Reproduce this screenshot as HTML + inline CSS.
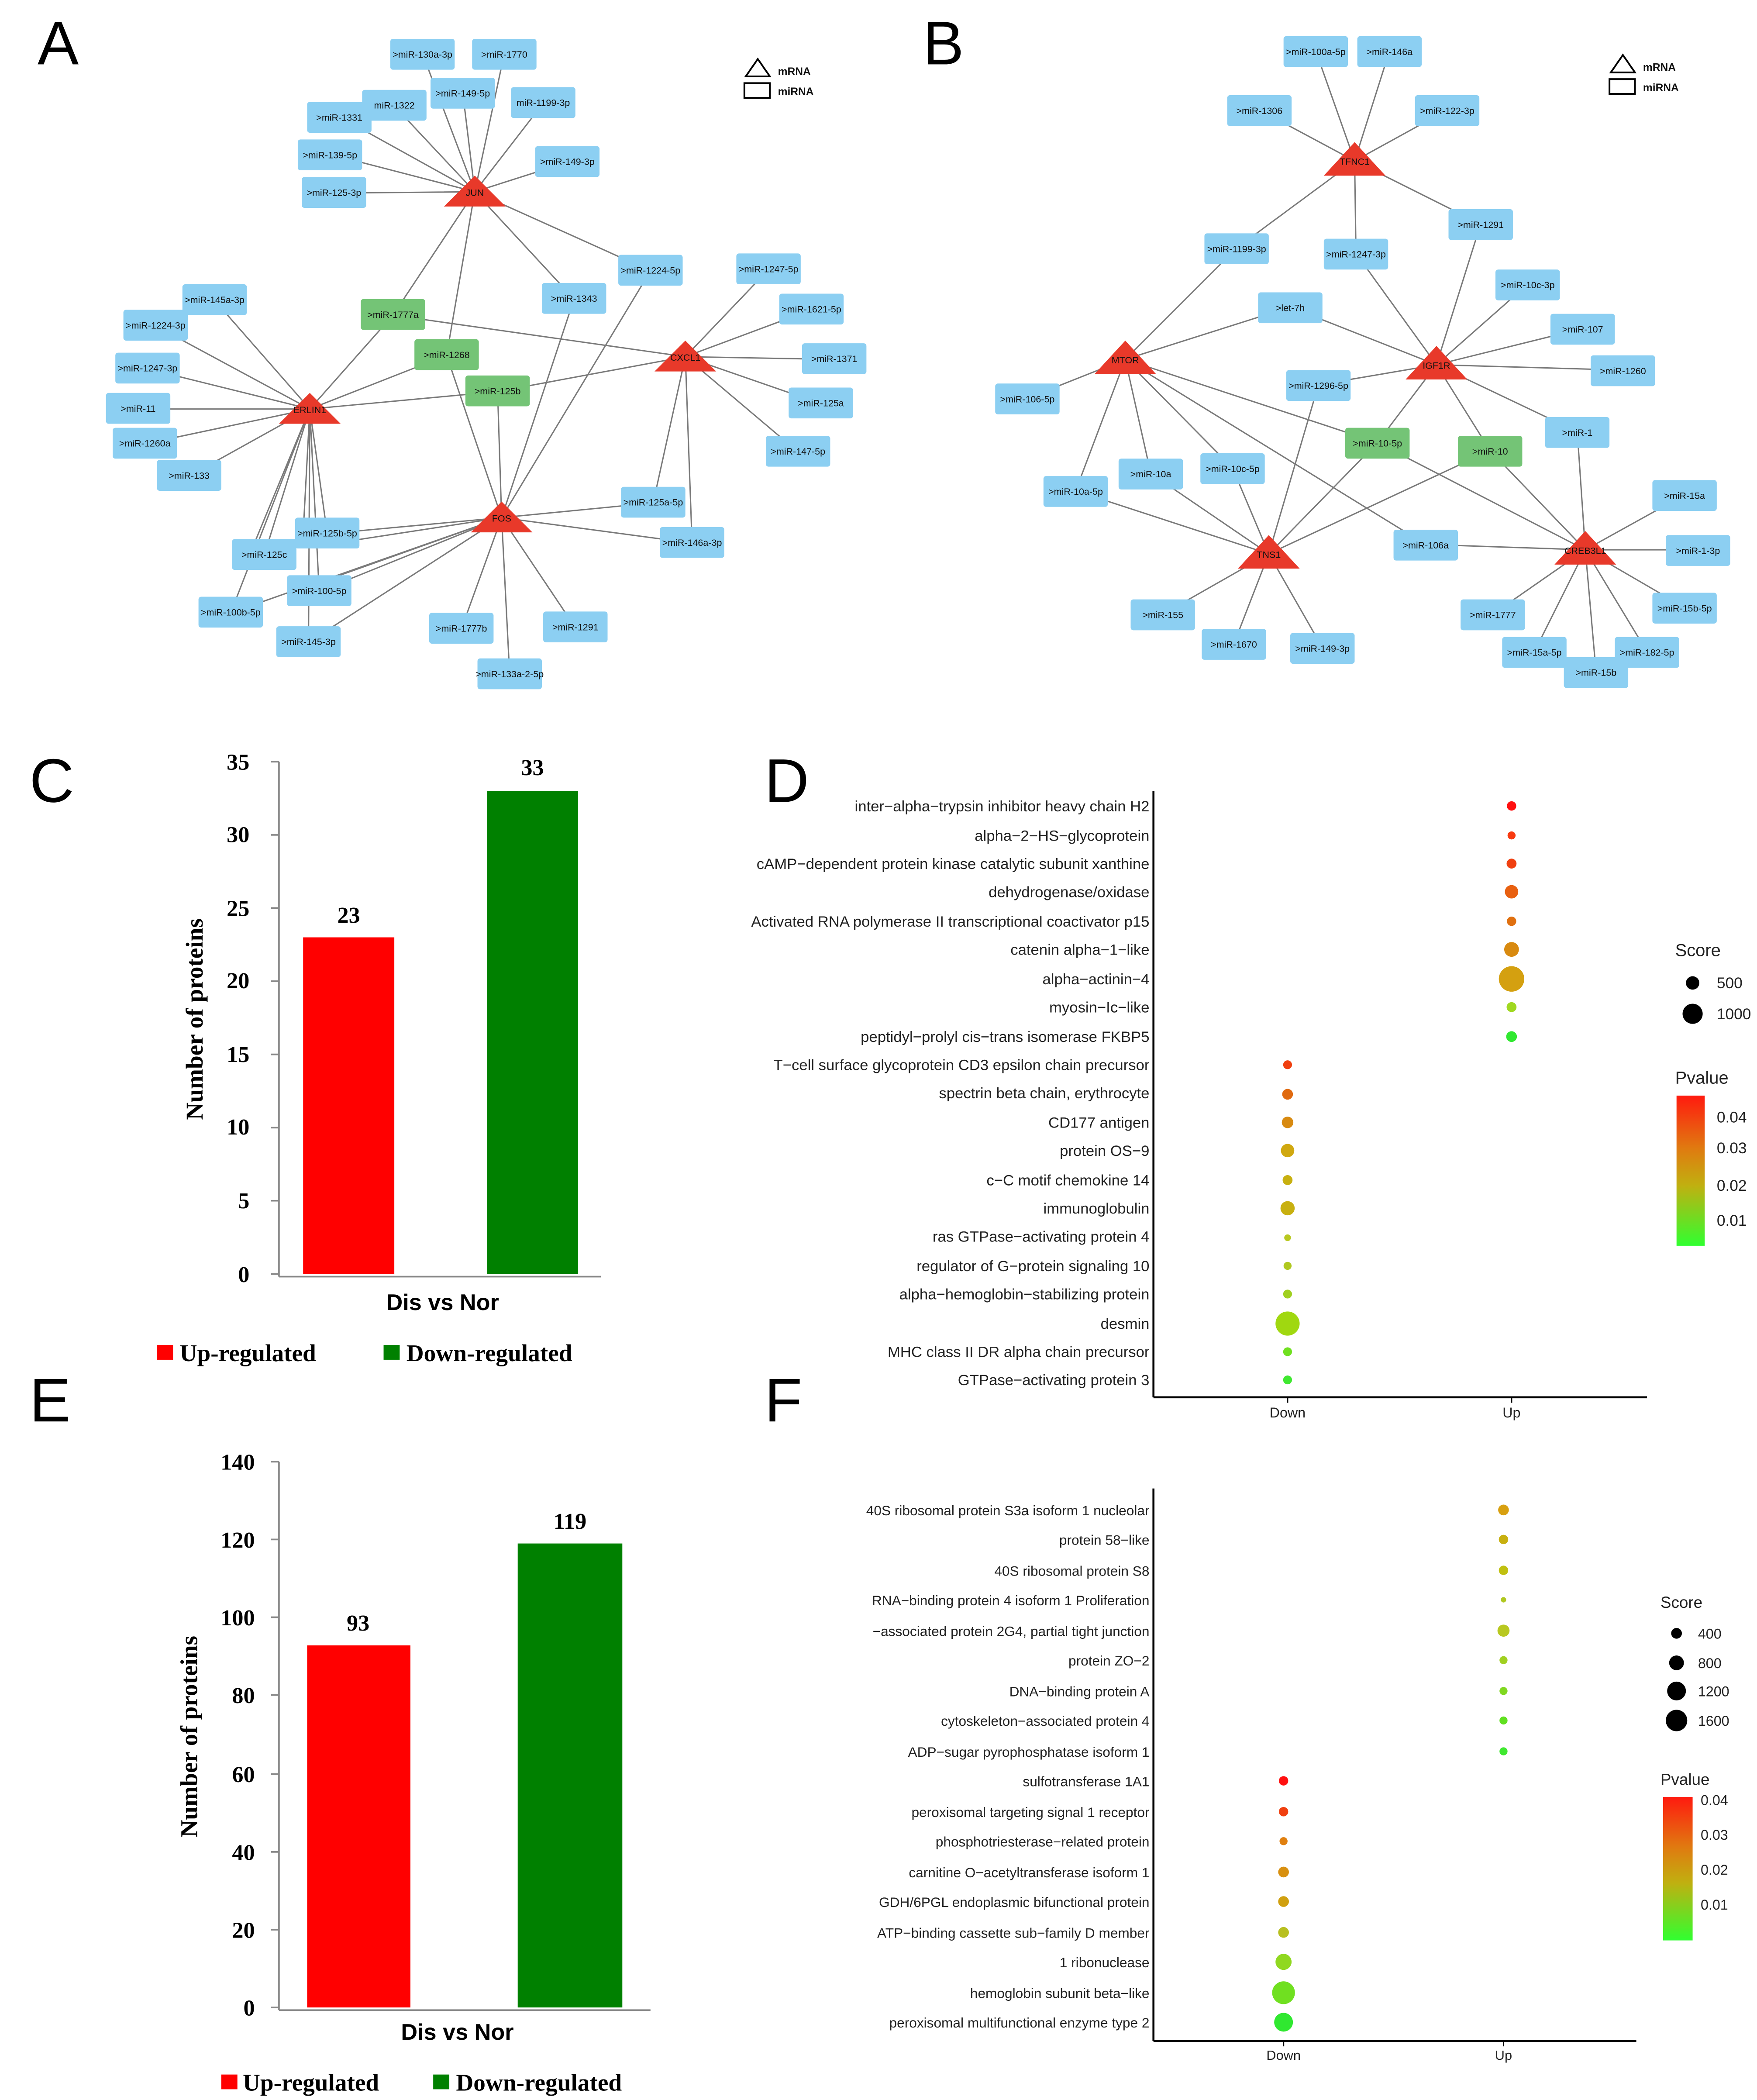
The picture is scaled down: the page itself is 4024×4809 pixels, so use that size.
<!DOCTYPE html>
<html><head><meta charset="utf-8"><style>
html,body{margin:0;padding:0;background:#fff;}
svg{display:block;}
.b{fill:#8ccff2;}
.g{fill:#74c476;}
.t{fill:#e8392a;}
.e{stroke:#7a7a7a;stroke-width:1;fill:none;}
.n{font-family:"Liberation Sans",sans-serif;font-size:7px;text-anchor:middle;fill:#111;}
.lab{font-family:"Liberation Sans",sans-serif;font-size:11.3px;text-anchor:end;fill:#222;}
.labf{font-family:"Liberation Sans",sans-serif;font-size:10.3px;text-anchor:end;fill:#222;}
.big{font-family:"Liberation Sans",sans-serif;font-size:46px;fill:#000;}
.ax{font-family:"Liberation Serif",serif;font-weight:bold;font-size:17px;fill:#000;text-anchor:end;}
.sm{font-family:"Liberation Sans",sans-serif;font-size:11.5px;fill:#222;}
</style></head><body>
<svg width="4024" height="4809" viewBox="0 0 1310 1566" preserveAspectRatio="none" xmlns="http://www.w3.org/2000/svg">
<rect width="1310" height="1566" fill="#fff"/>
<text class="big" x="28" y="48">A</text>
<text class="big" x="688" y="48">B</text>
<text class="big" x="22" y="598">C</text>
<text class="big" x="570" y="598">D</text>
<text class="big" x="22" y="1060">E</text>
<text class="big" x="570" y="1060">F</text>

<!-- Panel A edges -->
<g class="e">
<path d="M354 143L315 40M354 143L376 40M354 143L345 69M354 143L405 77M354 143L294 79M354 143L253 87M354 143L246 115M354 143L423 121M354 143L249 144M354 143L485 202M354 143L428 223M354 143L293 235M354 143L333 265"/>
<path d="M231 305L160 224M231 305L116 243M231 305L110 275M231 305L103 305M231 305L108 331M231 305L141 355M231 305L293 235M231 305L333 265M231 305L371 292M231 305L244 398M231 305L197 414M231 305L238 441M231 305L172 457M231 305L230 479M231 305L226 398M231 305L186 414"/>
<path d="M511 266L573 201M511 266L605 231M511 266L622 268M511 266L612 301M511 266L595 337M511 266L293 235M511 266L371 292M511 266L487 375M511 266L516 405"/>
<path d="M374 386L371 292M374 386L333 265M374 386L428 223M374 386L485 202M374 386L487 375M374 386L516 405M374 386L344 469M374 386L429 468M374 386L380 503M374 386L244 398M374 386L250 405M374 386L238 441M374 386L245 432M374 386L172 457M374 386L230 479"/>
</g>
<!-- Panel A triangles -->
<polygon class="t" points="354,131 331,154 377,154"/><text class="n" x="354" y="146">JUN</text>
<polygon class="t" points="231,293 208,316 254,316"/><text class="n" x="231" y="308">ERLIN1</text>
<polygon class="t" points="511,254 488,277 534,277"/><text class="n" x="511" y="269">CXCL1</text>
<polygon class="t" points="374,374 351,397 397,397"/><text class="n" x="374" y="389">FOS</text>
<!-- Panel A boxes -->
<g>
<rect class="b" x="291" y="29" width="48" height="23" rx="2"/><text class="n" x="315" y="43">&gt;miR-130a-3p</text>
<rect class="b" x="352" y="29" width="48" height="23" rx="2"/><text class="n" x="376" y="43">&gt;miR-1770</text>
<rect class="b" x="321" y="58" width="48" height="23" rx="2"/><text class="n" x="345" y="72">&gt;miR-149-5p</text>
<rect class="b" x="381" y="65" width="48" height="23" rx="2"/><text class="n" x="405" y="79">miR-1199-3p</text>
<rect class="b" x="270" y="67" width="48" height="23" rx="2"/><text class="n" x="294" y="81">miR-1322</text>
<rect class="b" x="229" y="76" width="48" height="23" rx="2"/><text class="n" x="253" y="90">&gt;miR-1331</text>
<rect class="b" x="222" y="104" width="48" height="23" rx="2"/><text class="n" x="246" y="118">&gt;miR-139-5p</text>
<rect class="b" x="399" y="109" width="48" height="23" rx="2"/><text class="n" x="423" y="123">&gt;miR-149-3p</text>
<rect class="b" x="225" y="132" width="48" height="23" rx="2"/><text class="n" x="249" y="146">&gt;miR-125-3p</text>
<rect class="b" x="461" y="190" width="48" height="23" rx="2"/><text class="n" x="485" y="204">&gt;miR-1224-5p</text>
<rect class="b" x="404" y="211" width="48" height="23" rx="2"/><text class="n" x="428" y="225">&gt;miR-1343</text>
<rect class="b" x="549" y="189" width="48" height="23" rx="2"/><text class="n" x="573" y="203">&gt;miR-1247-5p</text>
<rect class="b" x="581" y="219" width="48" height="23" rx="2"/><text class="n" x="605" y="233">&gt;miR-1621-5p</text>
<rect class="b" x="598" y="256" width="48" height="23" rx="2"/><text class="n" x="622" y="270">&gt;miR-1371</text>
<rect class="b" x="588" y="289" width="48" height="23" rx="2"/><text class="n" x="612" y="303">&gt;miR-125a</text>
<rect class="b" x="571" y="325" width="48" height="23" rx="2"/><text class="n" x="595" y="339">&gt;miR-147-5p</text>
<rect class="b" x="136" y="212" width="48" height="23" rx="2"/><text class="n" x="160" y="226">&gt;miR-145a-3p</text>
<rect class="b" x="92" y="231" width="48" height="23" rx="2"/><text class="n" x="116" y="245">&gt;miR-1224-3p</text>
<rect class="b" x="86" y="263" width="48" height="23" rx="2"/><text class="n" x="110" y="277">&gt;miR-1247-3p</text>
<rect class="b" x="79" y="293" width="48" height="23" rx="2"/><text class="n" x="103" y="307">&gt;miR-11</text>
<rect class="b" x="84" y="319" width="48" height="23" rx="2"/><text class="n" x="108" y="333">&gt;miR-1260a</text>
<rect class="b" x="117" y="343" width="48" height="23" rx="2"/><text class="n" x="141" y="357">&gt;miR-133</text>
<rect class="b" x="220" y="386" width="48" height="23" rx="2"/><text class="n" x="244" y="400">&gt;miR-125b-5p</text>
<rect class="b" x="173" y="402" width="48" height="23" rx="2"/><text class="n" x="197" y="416">&gt;miR-125c</text>
<rect class="b" x="214" y="429" width="48" height="23" rx="2"/><text class="n" x="238" y="443">&gt;miR-100-5p</text>
<rect class="b" x="148" y="445" width="48" height="23" rx="2"/><text class="n" x="172" y="459">&gt;miR-100b-5p</text>
<rect class="b" x="206" y="467" width="48" height="23" rx="2"/><text class="n" x="230" y="481">&gt;miR-145-3p</text>
<rect class="b" x="463" y="363" width="48" height="23" rx="2"/><text class="n" x="487" y="377">&gt;miR-125a-5p</text>
<rect class="b" x="492" y="393" width="48" height="23" rx="2"/><text class="n" x="516" y="407">&gt;miR-146a-3p</text>
<rect class="b" x="320" y="457" width="48" height="23" rx="2"/><text class="n" x="344" y="471">&gt;miR-1777b</text>
<rect class="b" x="405" y="456" width="48" height="23" rx="2"/><text class="n" x="429" y="470">&gt;miR-1291</text>
<rect class="b" x="356" y="491" width="48" height="23" rx="2"/><text class="n" x="380" y="505">&gt;miR-133a-2-5p</text>
<rect class="g" x="269" y="223" width="48" height="23" rx="2"/><text class="n" x="293" y="237">&gt;miR-1777a</text>
<rect class="g" x="309" y="253" width="48" height="23" rx="2"/><text class="n" x="333" y="267">&gt;miR-1268</text>
<rect class="g" x="347" y="280" width="48" height="23" rx="2"/><text class="n" x="371" y="294">&gt;miR-125b</text>
</g>
<!-- Legend A -->
<polygon points="565,44 556,57 574,57" fill="none" stroke="#000" stroke-width="1.3"/>
<rect x="555" y="62" width="19" height="11" fill="none" stroke="#000" stroke-width="1.3"/>
<text class="n" x="580" y="56" style="text-anchor:start;font-size:8px;font-weight:bold">mRNA</text>
<text class="n" x="580" y="71" style="text-anchor:start;font-size:8px;font-weight:bold">miRNA</text>

<!-- Panel B edges -->
<g class="e">
<path d="M1010 120L981 38M1010 120L1036 38M1010 120L939 82M1010 120L1079 82M1010 120L1104 167M1010 120L922 185M1010 120L1011 189"/>
<path d="M839 268L922 185M839 268L962 229M839 268L766 297M839 268L802 366M839 268L858 353M839 268L919 349M839 268L1063 406M839 268L1027 330"/>
<path d="M802 366L946 413M858 353L946 413M919 349L946 413"/>
<path d="M1071 272L1011 189M1071 272L1104 167M1071 272L962 229M1071 272L1139 212M1071 272L1180 245M1071 272L1210 276M1071 272L983 287M1071 272L1027 330M1071 272L1111 336M1071 272L1176 322"/>
<path d="M946 413L983 287M946 413L1027 330M946 413L1111 336M946 413L867 458M946 413L920 480M946 413L986 483"/>
<path d="M1182 410L1027 330M1182 410L1111 336M1182 410L1176 322M1182 410L1063 406M1182 410L1256 369M1182 410L1266 410M1182 410L1256 453M1182 410L1228 486M1182 410L1190 501M1182 410L1144 486M1182 410L1113 458"/>
</g>
<polygon class="t" points="1010,106 987,131 1033,131"/><text class="n" x="1010" y="123">TFNC1</text>
<polygon class="t" points="839,254 816,279 862,279"/><text class="n" x="839" y="271">MTOR</text>
<polygon class="t" points="1071,258 1048,283 1094,283"/><text class="n" x="1071" y="275">IGF1R</text>
<polygon class="t" points="946,399 923,424 969,424"/><text class="n" x="946" y="416">TNS1</text>
<polygon class="t" points="1182,396 1159,421 1205,421"/><text class="n" x="1182" y="413">CREB3L1</text>
<g>
<rect class="b" x="957" y="27" width="48" height="23" rx="2"/><text class="n" x="981" y="41">&gt;miR-100a-5p</text>
<rect class="b" x="1012" y="27" width="48" height="23" rx="2"/><text class="n" x="1036" y="41">&gt;miR-146a</text>
<rect class="b" x="915" y="71" width="48" height="23" rx="2"/><text class="n" x="939" y="85">&gt;miR-1306</text>
<rect class="b" x="1055" y="71" width="48" height="23" rx="2"/><text class="n" x="1079" y="85">&gt;miR-122-3p</text>
<rect class="b" x="1080" y="156" width="48" height="23" rx="2"/><text class="n" x="1104" y="170">&gt;miR-1291</text>
<rect class="b" x="898" y="174" width="48" height="23" rx="2"/><text class="n" x="922" y="188">&gt;miR-1199-3p</text>
<rect class="b" x="987" y="178" width="48" height="23" rx="2"/><text class="n" x="1011" y="192">&gt;miR-1247-3p</text>
<rect class="b" x="938" y="218" width="48" height="23" rx="2"/><text class="n" x="962" y="232">&gt;let-7h</text>
<rect class="b" x="1115" y="201" width="48" height="23" rx="2"/><text class="n" x="1139" y="215">&gt;miR-10c-3p</text>
<rect class="b" x="1156" y="234" width="48" height="23" rx="2"/><text class="n" x="1180" y="248">&gt;miR-107</text>
<rect class="b" x="1186" y="265" width="48" height="23" rx="2"/><text class="n" x="1210" y="279">&gt;miR-1260</text>
<rect class="b" x="959" y="276" width="48" height="23" rx="2"/><text class="n" x="983" y="290">&gt;miR-1296-5p</text>
<rect class="b" x="742" y="286" width="48" height="23" rx="2"/><text class="n" x="766" y="300">&gt;miR-106-5p</text>
<rect class="b" x="1152" y="311" width="48" height="23" rx="2"/><text class="n" x="1176" y="325">&gt;miR-1</text>
<rect class="b" x="778" y="355" width="48" height="23" rx="2"/><text class="n" x="802" y="369">&gt;miR-10a-5p</text>
<rect class="b" x="834" y="342" width="48" height="23" rx="2"/><text class="n" x="858" y="356">&gt;miR-10a</text>
<rect class="b" x="895" y="338" width="48" height="23" rx="2"/><text class="n" x="919" y="352">&gt;miR-10c-5p</text>
<rect class="b" x="1039" y="395" width="48" height="23" rx="2"/><text class="n" x="1063" y="409">&gt;miR-106a</text>
<rect class="b" x="1232" y="358" width="48" height="23" rx="2"/><text class="n" x="1256" y="372">&gt;miR-15a</text>
<rect class="b" x="1242" y="399" width="48" height="23" rx="2"/><text class="n" x="1266" y="413">&gt;miR-1-3p</text>
<rect class="b" x="1232" y="442" width="48" height="23" rx="2"/><text class="n" x="1256" y="456">&gt;miR-15b-5p</text>
<rect class="b" x="1204" y="475" width="48" height="23" rx="2"/><text class="n" x="1228" y="489">&gt;miR-182-5p</text>
<rect class="b" x="1166" y="490" width="48" height="23" rx="2"/><text class="n" x="1190" y="504">&gt;miR-15b</text>
<rect class="b" x="1120" y="475" width="48" height="23" rx="2"/><text class="n" x="1144" y="489">&gt;miR-15a-5p</text>
<rect class="b" x="1089" y="447" width="48" height="23" rx="2"/><text class="n" x="1113" y="461">&gt;miR-1777</text>
<rect class="b" x="843" y="447" width="48" height="23" rx="2"/><text class="n" x="867" y="461">&gt;miR-155</text>
<rect class="b" x="896" y="469" width="48" height="23" rx="2"/><text class="n" x="920" y="483">&gt;miR-1670</text>
<rect class="b" x="962" y="472" width="48" height="23" rx="2"/><text class="n" x="986" y="486">&gt;miR-149-3p</text>
<rect class="g" x="1003" y="319" width="48" height="23" rx="2"/><text class="n" x="1027" y="333">&gt;miR-10-5p</text>
<rect class="g" x="1087" y="325" width="48" height="23" rx="2"/><text class="n" x="1111" y="339">&gt;miR-10</text>
</g>
<polygon points="1210,41 1201,54 1219,54" fill="none" stroke="#000" stroke-width="1.3"/>
<rect x="1200" y="59" width="19" height="11" fill="none" stroke="#000" stroke-width="1.3"/>
<text class="n" x="1225" y="53" style="text-anchor:start;font-size:8px;font-weight:bold">mRNA</text>
<text class="n" x="1225" y="68" style="text-anchor:start;font-size:8px;font-weight:bold">miRNA</text>

<!-- Panel C -->
<g stroke="#888" stroke-width="1.2">
<line x1="208" y1="568" x2="208" y2="952"/><line x1="208" y1="952" x2="448" y2="952"/>
<line x1="202" y1="568" x2="208" y2="568"/><line x1="202" y1="622.6" x2="208" y2="622.6"/><line x1="202" y1="677.1" x2="208" y2="677.1"/><line x1="202" y1="731.7" x2="208" y2="731.7"/><line x1="202" y1="786.3" x2="208" y2="786.3"/><line x1="202" y1="840.9" x2="208" y2="840.9"/><line x1="202" y1="895.4" x2="208" y2="895.4"/><line x1="202" y1="950" x2="208" y2="950"/>
</g>
<g class="ax"><text x="186" y="574">35</text><text x="186" y="628">30</text><text x="186" y="683">25</text><text x="186" y="737">20</text><text x="186" y="792">15</text><text x="186" y="846">10</text><text x="186" y="901">5</text><text x="186" y="956">0</text></g>
<rect x="226" y="699" width="68" height="251" fill="#ff0000"/>
<rect x="363" y="590" width="68" height="360" fill="#008000"/>
<text class="ax" x="260" y="688" style="text-anchor:middle">23</text>
<text class="ax" x="397" y="578" style="text-anchor:middle">33</text>
<text x="330" y="977" style="font-family:'Liberation Sans',sans-serif;font-weight:bold;font-size:17px;text-anchor:middle">Dis vs Nor</text>
<text class="ax" transform="translate(151,760) rotate(-90)" style="text-anchor:middle;font-size:18px">Number of proteins</text>
<rect x="117" y="1003" width="12" height="11" fill="#ff0000"/>
<text x="134" y="1015" style="font-family:'Liberation Serif',serif;font-weight:bold;font-size:18px">Up-regulated</text>
<rect x="286" y="1003" width="12" height="11" fill="#008000"/>
<text x="303" y="1015" style="font-family:'Liberation Serif',serif;font-weight:bold;font-size:18px">Down-regulated</text>

<!-- Panel E -->
<g stroke="#888" stroke-width="1.2">
<line x1="208" y1="1090" x2="208" y2="1499"/><line x1="208" y1="1499" x2="485" y2="1499"/>
<line x1="202" y1="1090" x2="208" y2="1090"/><line x1="202" y1="1148" x2="208" y2="1148"/><line x1="202" y1="1206" x2="208" y2="1206"/><line x1="202" y1="1264" x2="208" y2="1264"/><line x1="202" y1="1323" x2="208" y2="1323"/><line x1="202" y1="1381" x2="208" y2="1381"/><line x1="202" y1="1439" x2="208" y2="1439"/><line x1="202" y1="1497" x2="208" y2="1497"/>
</g>
<g class="ax"><text x="190" y="1096">140</text><text x="190" y="1154">120</text><text x="190" y="1212">100</text><text x="190" y="1270">80</text><text x="190" y="1329">60</text><text x="190" y="1387">40</text><text x="190" y="1445">20</text><text x="190" y="1503">0</text></g>
<rect x="229" y="1227" width="77" height="270" fill="#ff0000"/>
<rect x="386" y="1151" width="78" height="346" fill="#008000"/>
<text class="ax" x="267" y="1216" style="text-anchor:middle">93</text>
<text class="ax" x="425" y="1140" style="text-anchor:middle">119</text>
<text x="341" y="1521" style="font-family:'Liberation Sans',sans-serif;font-weight:bold;font-size:17px;text-anchor:middle">Dis vs Nor</text>
<text class="ax" transform="translate(147,1295) rotate(-90)" style="text-anchor:middle;font-size:18px">Number of proteins</text>
<rect x="165" y="1547" width="12" height="11" fill="#ff0000"/>
<text x="181" y="1559" style="font-family:'Liberation Serif',serif;font-weight:bold;font-size:18px">Up-regulated</text>
<rect x="323" y="1547" width="12" height="11" fill="#008000"/>
<text x="340" y="1559" style="font-family:'Liberation Serif',serif;font-weight:bold;font-size:18px">Down-regulated</text>

<!-- Panel D -->
<defs>
<linearGradient id="pg" x1="0" y1="0" x2="0" y2="1"><stop offset="0" stop-color="#ff1a0f"/><stop offset="0.35" stop-color="#e07a10"/><stop offset="0.6" stop-color="#c0b010"/><stop offset="1" stop-color="#30ff30"/></linearGradient>
</defs>
<g stroke="#000" stroke-width="1.5"><line x1="860" y1="590" x2="860" y2="1042"/><line x1="860" y1="1042" x2="1228" y2="1042"/></g>
<g class="lab">
<text x="857" y="605">inter−alpha−trypsin inhibitor heavy chain H2</text>
<text x="857" y="627">alpha−2−HS−glycoprotein</text>
<text x="857" y="648">cAMP−dependent protein kinase catalytic subunit xanthine</text>
<text x="857" y="669">dehydrogenase/oxidase</text>
<text x="857" y="691">Activated RNA polymerase II transcriptional coactivator p15</text>
<text x="857" y="712">catenin alpha−1−like</text>
<text x="857" y="734">alpha−actinin−4</text>
<text x="857" y="755">myosin−Ic−like</text>
<text x="857" y="777">peptidyl−prolyl cis−trans isomerase FKBP5</text>
<text x="857" y="798">T−cell surface glycoprotein CD3 epsilon chain precursor</text>
<text x="857" y="819">spectrin beta chain, erythrocyte</text>
<text x="857" y="841">CD177 antigen</text>
<text x="857" y="862">protein OS−9</text>
<text x="857" y="884">c−C motif chemokine 14</text>
<text x="857" y="905">immunoglobulin</text>
<text x="857" y="926">ras GTPase−activating protein 4</text>
<text x="857" y="948">regulator of G−protein signaling 10</text>
<text x="857" y="969">alpha−hemoglobin−stabilizing protein</text>
<text x="857" y="991">desmin</text>
<text x="857" y="1012">MHC class II DR alpha chain precursor</text>
<text x="857" y="1033">GTPase−activating protein 3</text>
</g>
<circle cx="1127" cy="601" r="3.5" fill="#ff1010"/>
<circle cx="1127" cy="623" r="3" fill="#f83a10"/>
<circle cx="1127" cy="644" r="3.7" fill="#f04010"/>
<circle cx="1127" cy="665" r="5" fill="#e86010"/>
<circle cx="1127" cy="687" r="3.5" fill="#e07010"/>
<circle cx="1127" cy="708" r="5.5" fill="#d88a10"/>
<circle cx="1127" cy="730" r="9.5" fill="#d4a010"/>
<circle cx="1127" cy="751" r="3.7" fill="#a0d820"/>
<circle cx="1127" cy="773" r="4" fill="#30e830"/>
<circle cx="960" cy="794" r="3.3" fill="#f04010"/>
<circle cx="960" cy="816" r="4" fill="#e06a10"/>
<circle cx="960" cy="837" r="4.3" fill="#d88a10"/>
<circle cx="960" cy="858" r="5" fill="#d0a810"/>
<circle cx="960" cy="880" r="3.7" fill="#c8b010"/>
<circle cx="960" cy="901" r="5.3" fill="#c8b010"/>
<circle cx="960" cy="923" r="2.5" fill="#b8c820"/>
<circle cx="960" cy="944" r="3" fill="#b0c820"/>
<circle cx="960" cy="965" r="3.3" fill="#a0d020"/>
<circle cx="960" cy="987" r="9" fill="#a0d810"/>
<circle cx="960" cy="1008" r="3.3" fill="#70e020"/>
<circle cx="960" cy="1029" r="3.3" fill="#40e830"/>
<g stroke="#000"><line x1="960" y1="1042" x2="960" y2="1046"/><line x1="1127" y1="1042" x2="1127" y2="1046"/></g>
<text class="sm" x="960" y="1057" style="text-anchor:middle;font-size:10.5px">Down</text>
<text class="sm" x="1127" y="1057" style="text-anchor:middle;font-size:10.5px">Up</text>
<text class="sm" x="1249" y="713" style="font-size:13px">Score</text>
<circle cx="1262" cy="733" r="5" fill="#000"/><text class="sm" x="1280" y="737">500</text>
<circle cx="1262" cy="756" r="7.5" fill="#000"/><text class="sm" x="1280" y="760">1000</text>
<text class="sm" x="1249" y="808" style="font-size:13px">Pvalue</text>
<rect x="1250" y="817" width="21" height="112" fill="url(#pg)"/>
<text class="sm" x="1280" y="837">0.04</text><text class="sm" x="1280" y="860">0.03</text><text class="sm" x="1280" y="888">0.02</text><text class="sm" x="1280" y="914">0.01</text>

<!-- Panel F -->
<g stroke="#000" stroke-width="1.5"><line x1="860" y1="1110" x2="860" y2="1522"/><line x1="860" y1="1522" x2="1220" y2="1522"/></g>
<g class="labf">
<text x="857" y="1130">40S ribosomal protein S3a isoform 1 nucleolar</text>
<text x="857" y="1152">protein 58−like</text>
<text x="857" y="1175">40S ribosomal protein S8</text>
<text x="857" y="1197">RNA−binding protein 4 isoform 1 Proliferation</text>
<text x="857" y="1220">−associated protein 2G4, partial tight junction</text>
<text x="857" y="1242">protein ZO−2</text>
<text x="857" y="1265">DNA−binding protein A</text>
<text x="857" y="1287">cytoskeleton−associated protein 4</text>
<text x="857" y="1310">ADP−sugar pyrophosphatase isoform 1</text>
<text x="857" y="1332">sulfotransferase 1A1</text>
<text x="857" y="1355">peroxisomal targeting signal 1 receptor</text>
<text x="857" y="1377">phosphotriesterase−related protein</text>
<text x="857" y="1400">carnitine O−acetyltransferase isoform 1</text>
<text x="857" y="1422">GDH/6PGL endoplasmic bifunctional protein</text>
<text x="857" y="1445">ATP−binding cassette sub−family D member</text>
<text x="857" y="1467">1 ribonuclease</text>
<text x="857" y="1490">hemoglobin subunit beta−like</text>
<text x="857" y="1512">peroxisomal multifunctional enzyme type 2</text>
</g>
<circle cx="1121" cy="1126" r="4" fill="#d8a010"/>
<circle cx="1121" cy="1148" r="3.5" fill="#c8b010"/>
<circle cx="1121" cy="1171" r="3.5" fill="#c0c010"/>
<circle cx="1121" cy="1193" r="2" fill="#b0c820"/>
<circle cx="1121" cy="1216" r="4.5" fill="#b8c820"/>
<circle cx="1121" cy="1238" r="3" fill="#a0d020"/>
<circle cx="1121" cy="1261" r="3" fill="#80d820"/>
<circle cx="1121" cy="1283" r="3" fill="#60e020"/>
<circle cx="1121" cy="1306" r="3" fill="#40e830"/>
<circle cx="957" cy="1328" r="3.5" fill="#ff1010"/>
<circle cx="957" cy="1351" r="3.5" fill="#f04010"/>
<circle cx="957" cy="1373" r="3" fill="#e08010"/>
<circle cx="957" cy="1396" r="4" fill="#d89010"/>
<circle cx="957" cy="1418" r="4" fill="#d0a010"/>
<circle cx="957" cy="1441" r="4" fill="#b8c020"/>
<circle cx="957" cy="1463" r="6" fill="#90d820"/>
<circle cx="957" cy="1486" r="8.5" fill="#70e020"/>
<circle cx="957" cy="1508" r="7" fill="#30e830"/>
<g stroke="#000"><line x1="957" y1="1522" x2="957" y2="1526"/><line x1="1121" y1="1522" x2="1121" y2="1526"/></g>
<text class="sm" x="957" y="1536" style="text-anchor:middle;font-size:10px">Down</text>
<text class="sm" x="1121" y="1536" style="text-anchor:middle;font-size:10px">Up</text>
<text class="sm" x="1238" y="1199" style="font-size:12px">Score</text>
<circle cx="1250" cy="1218" r="4" fill="#000"/><text class="sm" x="1266" y="1222" style="font-size:10.5px">400</text>
<circle cx="1250" cy="1240" r="5.5" fill="#000"/><text class="sm" x="1266" y="1244" style="font-size:10.5px">800</text>
<circle cx="1250" cy="1261" r="7" fill="#000"/><text class="sm" x="1266" y="1265" style="font-size:10.5px">1200</text>
<circle cx="1250" cy="1283" r="8" fill="#000"/><text class="sm" x="1266" y="1287" style="font-size:10.5px">1600</text>
<text class="sm" x="1238" y="1331" style="font-size:12px">Pvalue</text>
<rect x="1240" y="1340" width="22" height="107" fill="url(#pg)"/>
<text class="sm" x="1268" y="1346" style="font-size:10.5px">0.04</text><text class="sm" x="1268" y="1372" style="font-size:10.5px">0.03</text><text class="sm" x="1268" y="1398" style="font-size:10.5px">0.02</text><text class="sm" x="1268" y="1424" style="font-size:10.5px">0.01</text>
</svg>
</body></html>
